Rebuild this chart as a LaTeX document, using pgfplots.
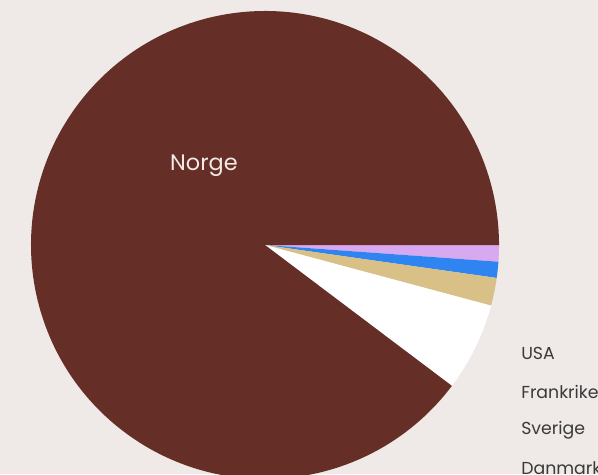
\documentclass[border=0pt]{standalone}
\usepackage{fontspec}
\setmainfont{Poppins}
\usepackage{pgfplots}
\pgfplotsset{compat=1.18}
\definecolor{bgc}{HTML}{EFE9E7}
\definecolor{cbrown}{HTML}{652F27}
\definecolor{cpurple}{HTML}{D8A8F0}
\definecolor{cblue}{HTML}{2E84F0}
\definecolor{ctan}{HTML}{D9C087}
\definecolor{ctext}{HTML}{3A3A3A}
\definecolor{clabel}{HTML}{F3E9E6}

% running total of the shares drawn so far (percent)
\def\cum{0}
\newcommand\slice[2]{%
  \pgfmathsetmacro\sa{-\cum*3.6}%
  \pgfmathsetmacro\cumnew{\cum+#1}%
  \global\let\cum\cumnew
  \pgfmathsetmacro\sb{-\cum*3.6}%
  \edef\temp{\noexpand\fill[#2] (axis cs:0,0) -- (axis cs:{cos(\sa)},{sin(\sa)})
    arc[start angle=\sa, end angle=\sb, radius=1] -- cycle;}%
  \temp}

\begin{document}
\begin{tikzpicture}
\begin{axis}[
    hide axis, scale only axis,
    width=448.5pt, height=355.5pt,
    xmin=-1.1325, xmax=1.423,
    ymin=-0.9786, ymax=1.047,
    clip=true,
]
\fill[bgc] (rel axis cs:0,0) rectangle (rel axis cs:1,1);
\slice{1.14}{cpurple}
\slice{1.11}{cblue}
\slice{1.92}{ctan}
\slice{6.11}{white}
\slice{89.72}{cbrown}
\node[text=clabel, font=\fontsize{16.8}{19}\selectfont] at (axis cs:-0.261,0.337) {Norge};
\node[text=ctext, anchor=west, inner sep=0pt, font=\fontsize{13}{15}\selectfont] at (axis cs:1.094,-0.462) {USA};
\node[text=ctext, anchor=west, inner sep=0pt, font=\fontsize{13}{15}\selectfont] at (axis cs:1.094,-0.626) {Frankrike};
\node[text=ctext, anchor=west, inner sep=0pt, font=\fontsize{13}{15}\selectfont] at (axis cs:1.094,-0.790) {Sverige};
\node[text=ctext, anchor=west, inner sep=0pt, font=\fontsize{13}{15}\selectfont] at (axis cs:1.094,-0.952) {Danmark};
\coordinate (sw) at (rel axis cs:0,0);
\coordinate (ne) at (rel axis cs:1,1);
\end{axis}
\pgfresetboundingbox
\useasboundingbox (sw) rectangle (ne);
\end{tikzpicture}
\end{document}
